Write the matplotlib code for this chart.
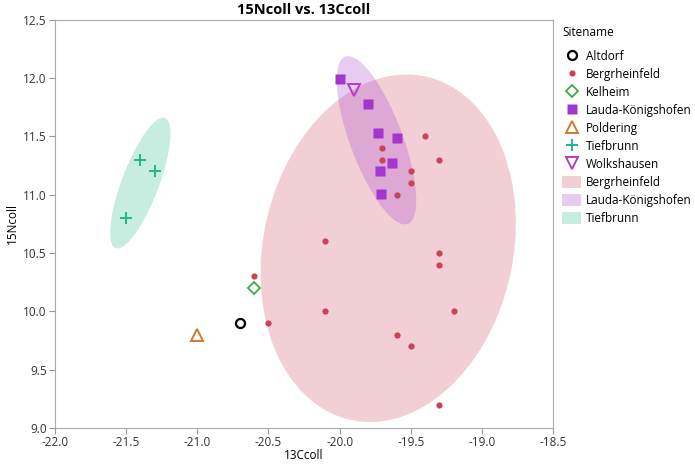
#15N vs 13C collagen scatter with density ellipses
import numpy as np
import matplotlib.pyplot as plt
from matplotlib.patches import Ellipse, Patch
from matplotlib.lines import Line2D

plt.rcParams['font.family'] = ['Open Sans', 'DejaVu Sans']

#data
altdorf_x = [-20.7]
altdorf_y = [9.9]
berg_x = [-19.4, -19.3, -19.7, -19.7, -19.5, -19.5, -19.6, -20.1, -19.3,
          -19.3, -20.6, -20.1, -19.2, -20.5, -19.6, -19.5, -19.3]
berg_y = [11.5, 11.3, 11.4, 11.3, 11.2, 11.1, 11.0, 10.6, 10.5,
          10.4, 10.3, 10.0, 10.0, 9.9, 9.8, 9.7, 9.2]
kelheim_x = [-20.6]
kelheim_y = [10.2]
lauda_x = [-20.0, -19.8, -19.73, -19.6, -19.63, -19.72, -19.71]
lauda_y = [11.99, 11.78, 11.53, 11.49, 11.27, 11.2, 11.01]
poldering_x = [-21.0]
poldering_y = [9.8]
tief_x = [-21.4, -21.3, -21.5]
tief_y = [11.3, 11.2, 10.8]
wolks_x = [-19.9]
wolks_y = [11.9]

c_alt = "black"
c_berg = "#cc4358"
c_kel = "#3caa46"
c_lauda = "#a236cf"
c_pold = "#d5792b"
c_tief = "#20b887"
c_wolks = "#b23ccc"

#Function to add a density ellipse from the covariance of the points
def density_ellipse(ax, x, y, color, k=2.12):
    x = np.array(x)
    y = np.array(y)
    cov = np.cov(x, y)
    vals, vecs = np.linalg.eigh(cov)
    angle = np.degrees(np.arctan2(vecs[1, 1], vecs[0, 1]))
    w = 2 * k * np.sqrt(vals[1])
    h = 2 * k * np.sqrt(vals[0])
    e = Ellipse((x.mean(), y.mean()), w, h, angle=angle,
                facecolor=color, alpha=0.25, edgecolor="none", zorder=1)
    ax.add_patch(e)

fig = plt.figure(figsize=(6.95, 4.66), dpi=100)
ax = fig.add_axes([0.079, 0.0815, 0.717, 0.876])

density_ellipse(ax, berg_x, berg_y, c_berg)
density_ellipse(ax, lauda_x, lauda_y, c_lauda)
density_ellipse(ax, tief_x, tief_y, c_tief)

ax.plot(altdorf_x, altdorf_y, "o", ms=6.5, mfc="none", mec=c_alt, mew=1.6, zorder=3)
ax.plot(berg_x, berg_y, "o", ms=4.5, color=c_berg, mec="none", zorder=3)
ax.plot(kelheim_x, kelheim_y, "D", ms=6, mfc="none", mec=c_kel, mew=1.3, zorder=3)
ax.plot(lauda_x, lauda_y, "s", ms=6.5, color=c_lauda, mec="none", zorder=3)
ax.plot(poldering_x, poldering_y, "^", ms=8, mfc="none", mec=c_pold, mew=1.4, zorder=3)
ax.plot(tief_x, tief_y, "+", ms=8, color=c_tief, mew=1.4, zorder=3)
ax.plot(wolks_x, wolks_y, "v", ms=8, mfc="none", mec=c_wolks, mew=1.4, zorder=3)

ax.set_xlim(-22, -18.5)
ax.set_ylim(9.0, 12.5)
ax.set_xticks(np.arange(-22, -18.49, 0.5))
ax.set_yticks(np.arange(9.0, 12.51, 0.5))
ax.xaxis.set_major_formatter(plt.FormatStrFormatter("%.1f"))
ax.yaxis.set_major_formatter(plt.FormatStrFormatter("%.1f"))
ax.tick_params(labelsize=8.5, color="#999999", length=4, pad=2, labelcolor="#333333")
for s in ax.spines.values():
    s.set_color("#aaaaaa")
ax.set_xlabel("13Ccoll", fontsize=8.5, labelpad=0)
ax.set_ylabel("15Ncoll", fontsize=8.5, labelpad=3)
ax.set_title("15Ncoll vs. 13Ccoll", fontsize=10.5, fontweight="bold", pad=4)

handles = [
    Line2D([], [], ls="none", marker="o", ms=6.5, mfc="none", mec=c_alt, mew=1.6),
    Line2D([], [], ls="none", marker="o", ms=4.5, color=c_berg, mec="none"),
    Line2D([], [], ls="none", marker="D", ms=6, mfc="none", mec=c_kel, mew=1.3),
    Line2D([], [], ls="none", marker="s", ms=6.5, color=c_lauda, mec="none"),
    Line2D([], [], ls="none", marker="^", ms=8, mfc="none", mec=c_pold, mew=1.4),
    Line2D([], [], ls="none", marker="+", ms=8, color=c_tief, mew=1.4),
    Line2D([], [], ls="none", marker="v", ms=8, mfc="none", mec=c_wolks, mew=1.4),
    Patch(facecolor=c_berg, alpha=0.25, edgecolor="none"),
    Patch(facecolor=c_lauda, alpha=0.25, edgecolor="none"),
    Patch(facecolor=c_tief, alpha=0.25, edgecolor="none"),
]
labels = ["Altdorf", "Bergrheinfeld", "Kelheim", "Lauda-Königshofen", "Poldering",
          "Tiefbrunn", "Wolkshausen", "Bergrheinfeld", "Lauda-Königshofen", "Tiefbrunn"]
leg = fig.legend(handles, labels, title="Sitename", loc="upper left",
                 bbox_to_anchor=(0.802, 0.955), frameon=False, fontsize=8.5,
                 title_fontsize=8.5, handlelength=1.6, handleheight=1.2,
                 handletextpad=0.4, labelspacing=0.42, borderaxespad=0)
leg._legend_box.align = "left"
leg._legend_box.sep = 8

plt.savefig("out.png")
